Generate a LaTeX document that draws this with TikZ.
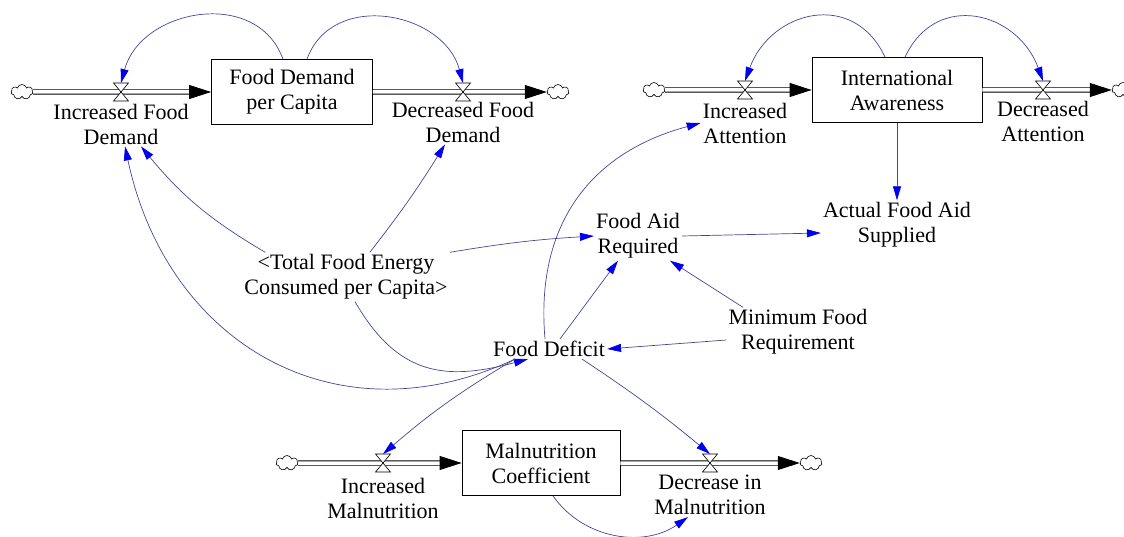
\documentclass[tikz,border=0pt]{standalone}
\usepackage{fontspec}
\setmainfont{Liberation Serif}
\newfontfamily\diagfont{Liberation Serif}
\usetikzlibrary{arrows.meta,shapes.symbols}

\definecolor{linkline}{RGB}{70,70,150}
\definecolor{linktip}{RGB}{0,0,235}

\begin{document}
\begin{tikzpicture}[x=1pt,y=1pt,
    every node/.style={font=\diagfont\fontsize{22}{25}\selectfont, align=center, inner sep=2pt},
    stock/.style={draw, line width=0.8pt, minimum height=65pt},
    pipe/.style={double, double distance=3.5pt, line width=0.8pt, -{Triangle[length=22pt,width=14pt]}},
    link/.style={linkline, line width=0.7pt, -{Triangle[color=linktip,length=14pt,width=8pt]}},
    cloudend/.style={cloud, draw, cloud puffs=7, minimum width=22pt, minimum height=15pt, inner sep=0pt, line width=0.6pt, fill=white},
    valve/.pic={\filldraw[fill=white, line width=0.6pt] (-7.5pt,9pt) -- (7.5pt,9pt) -- (-7.5pt,-9pt) -- (7.5pt,-9pt) -- cycle;
        \coordinate (-top) at (0pt,9pt);}]
    \useasboundingbox (0,0) rectangle (1124,536);

    % stocks
    \node[stock, minimum width=161pt] (FDpC) at (292,444) {Food Demand\\per Capita};
    \node[stock, minimum width=170pt] (IA) at (897,446) {International\\Awareness};
    \node[stock, minimum width=158pt] (MC) at (541,73) {Malnutrition\\Coefficient};

    % sources and sinks
    \node[cloudend] (cloudA) at (22,444) {};
    \node[cloudend] (cloudB) at (558,444) {};
    \node[cloudend] (cloudC) at (654,446) {};
    \node[cloudend] (cloudD) at (1123,446) {};
    \node[cloudend] (cloudE) at (287,73) {};
    \node[cloudend] (cloudF) at (811,73) {};

    % flows
    \draw[pipe] (cloudA) -- (FDpC);
    \draw[pipe] (FDpC) -- (cloudB);
    \draw[pipe] (cloudC) -- (IA);
    \draw[pipe] (IA) -- (cloudD);
    \draw[pipe] (cloudE) -- (MC);
    \draw[pipe] (MC) -- (cloudF);
    \pic (vA) at (121,444) {valve};
    \pic (vB) at (463,444) {valve};
    \pic (vC) at (745,446) {valve};
    \pic (vD) at (1043,446) {valve};
    \pic (vE) at (383,73) {valve};
    \pic (vF) at (710,73) {valve};
    \node (lIFD) at (121,412) {Increased Food\\Demand};
    \node (lDFD) at (463,414) {Decreased Food\\Demand};
    \node (lIA) at (745,413) {Increased\\Attention};
    \node (lDA) at (1043,415) {Decreased\\Attention};
    \node (lIM) at (383,38) {Increased\\Malnutrition};
    \node (lDM) at (710,41) {Decrease in\\Malnutrition};

    % auxiliaries
    \node (TFE) at (346,259) {<Total Food Energy\\Consumed per Capita>};
    \node (FAR) at (638,300) {Food Aid\\Required};
    \node (AFAS) at (897,311) {Actual Food Aid\\Supplied};
    \node (MFR) at (798,204) {Minimum Food\\Requirement};
    \node (FD) at (549,187) {Food Deficit};

    % stocks back to their own flows
    \draw[link] ([xshift=-9pt]FDpC.north) to[out=110,in=75,looseness=1.2] (vA-top);
    \draw[link] ([xshift=15pt]FDpC.north) to[out=70,in=105,looseness=1.2] (vB-top);
    \draw[link] ([xshift=-12pt]IA.north) to[out=115,in=70,looseness=1.35] (vC-top);
    \draw[link] ([xshift=8pt]IA.north) to[out=65,in=110,looseness=1.35] (vD-top);
    \draw[link] (IA) -- (AFAS);
    \draw[link] ([xshift=12pt]MC.south) to[out=-55,in=215] ([xshift=-22pt]lDM.south);

    % total food energy
    \draw[link] (TFE.163) to[bend left=10] ([xshift=20pt]lIFD.south);
    \draw[link] (TFE.46) to[bend right=3] ([xshift=-18pt]lDFD.south);
    \draw[link] (TFE.north east) to[bend left=3] (FAR.west);
    \draw[link] ([xshift=9pt]TFE.south) to[out=-60,in=195,looseness=1.2] ([xshift=-21pt]FD.south);

    % food deficit
    \draw[link] ([xshift=-34pt]FD.south) to[out=205,in=-78,looseness=1.15] ([xshift=4pt]lIFD.south);
    \draw[link] ([xshift=-4pt]FD.north) to[out=95,in=195,looseness=1.1] (lIA.west);
    \draw[link] ([xshift=11pt]FD.north) -- ([xshift=-20pt]FAR.south);
    \draw[link] ([xshift=-34pt]FD.south) to[bend right=5] (vE-top);
    \draw[link] ([xshift=33pt]FD.south) to[bend left=3] (vF-top);

    % minimum food requirement and aid
    \draw[link] ([xshift=-55pt]MFR.north) -- ([xshift=32pt]FAR.south);
    \draw[link] ([yshift=-8pt]MFR.west) -- (FD.east);
    \draw[link] (FAR.east) -- ([yshift=-8pt]AFAS.west);
\end{tikzpicture}
\end{document}
